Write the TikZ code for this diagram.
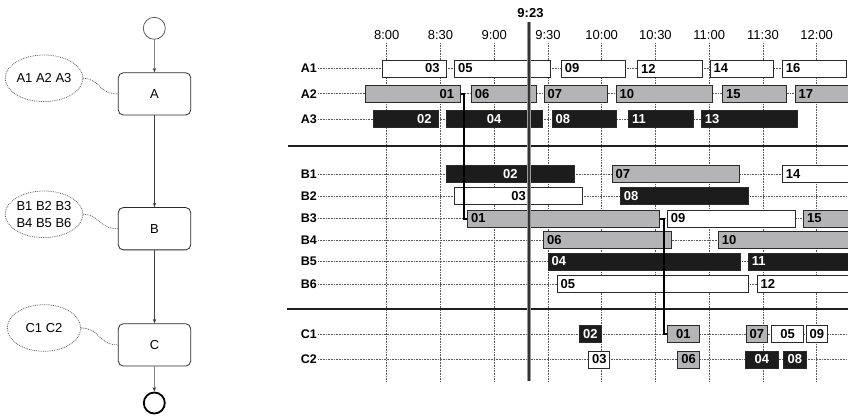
\documentclass[tikz,border=0pt]{standalone}
\usepackage{fontspec}
\setmainfont{Liberation Sans}
\usetikzlibrary{shapes.geometric,arrows.meta}
\definecolor{bxgray}{HTML}{B4B4B6}
\definecolor{bxblack}{HTML}{1C1C1C}
\definecolor{edgec}{HTML}{2A2A2A}
\definecolor{dotc}{HTML}{5A5A5A}
\definecolor{nowgray}{HTML}{9A9A9A}
\newcommand\bx[7]{%
  \pgfmathsetmacro\bxw{#4-#3}\pgfmathsetmacro\bxtw{#4-#3-7}%
  \node[#2, anchor=west, minimum width=\bxw pt, text width=\bxtw pt, align=#7] (#1) at (#3,#5) {#6};}
\begin{document}
\begin{tikzpicture}[x=1pt,y=-1pt,
  every node/.style={font=\fontsize{13}{17}\selectfont},
  boxbase/.style={draw=edgec, line width=0.8pt, minimum height=17pt, inner xsep=3.5pt, inner ysep=0pt,
    font=\fontsize{13}{14}\selectfont\bfseries},
  bW/.style={boxbase, fill=white, text=black},
  bG/.style={boxbase, fill=bxgray, text=black},
  bK/.style={boxbase, fill=bxblack, text=white},
  rowlab/.style={anchor=east, inner xsep=1pt, font=\fontsize{12.5}{14}\selectfont\bfseries},
  dotline/.style={draw=dotc, densely dotted, line width=0.6pt},
  gridline/.style={draw=dotc, densely dotted, line width=0.6pt},
  sep/.style={draw=black!88, line width=2.6pt},
  conn/.style={draw=black, line width=2pt},
  fbox/.style={draw=edgec, line width=0.8pt, rounded corners=5pt, minimum width=72.4pt, minimum height=42.3pt},
  ell/.style={ellipse, draw=dotc, densely dotted, line width=0.8pt, minimum width=73.4pt, minimum height=46.6pt, inner sep=0pt, align=center},
  flowarrow/.style={draw=black!75, line width=0.6pt, -{Stealth[length=4.5pt,width=3.5pt]}},
  elink/.style={draw=dotc, densely dotted, line width=0.8pt}
]
\useasboundingbox (0,0) rectangle (848,416);

% ---------------- flow diagram ----------------
\node[circle, draw=black!70, line width=0.7pt, minimum size=22pt, inner sep=0pt] (start) at (154.3,28.3) {};
\node[fbox] (A) at (154.5,93.9) {A};
\node[fbox] (B) at (154.5,228.7) {B};
\node[fbox] (C) at (154.5,344.9) {C};
\node[circle, draw=black, line width=1.8pt, minimum size=21pt, inner sep=0pt] (end) at (154.3,403) {};
\draw[flowarrow] (start) -- (A);
\draw[flowarrow] (A) -- (B);
\draw[flowarrow] (B) -- (C);
\draw[flowarrow] (C) -- (end);

\node[ell] (eA) at (44,78.3) {A1 A2 A3};
\node[ell] (eB) at (44,214.3) {B1 B2 B3\\B4 B5 B6};
\node[ell] (eC) at (44,328) {C1 C2};
\draw[elink] (eA.east) .. controls (100,78.3) and (98,94) .. (A.west);
\draw[elink] (eB.east) .. controls (100,214.3) and (98,228.7) .. (B.west);
\draw[elink] (eC.east) .. controls (100,328) and (98,344.9) .. (C.west);

% ---------------- time grid ----------------
\foreach \t/\x [count=\i] in {8:00/386.7, 8:30/440.45, 9:00/494.2, 9:30/547.95, 10:00/601.7, 10:30/655.45, 11:00/709.2, 11:30/762.95, 12:00/816.7} {
  \node (t\i) at (\x,35) {\t};
  \coordinate (g\i) at (\x,381);
  \draw[gridline] (t\i.south) -- (g\i);
}

% ---------------- row labels and lines ----------------
\foreach \r/\y/\e in {A1/68.5/848, A2/93.7/848, A3/119/701, B1/174/848, B2/196/848, B3/218.5/848, B4/240/848, B5/261.5/848, B6/284/848, C1/334/848, C2/359.5/848} {
  \node[rowlab] (l\r) at (318,\y) {\r};
  \coordinate (e\r) at (\e,\y);
  \draw[dotline] (l\r.east) -- (e\r);
}

% ---------------- A boxes ----------------
\bx{a1-03}{bW}{382.3}{445.7}{68.5}{03\hspace*{3pt}}{right}
\bx{a1-05}{bW}{454.3}{550}{68.5}{05}{left}
\bx{a1-09}{bW}{561}{625}{68.5}{09}{left}
\bx{a1-12}{bW}{637.3}{701.7}{68.5}{12}{left}
\bx{a1-14}{bW}{709.7}{773.3}{68.5}{14}{left}
\bx{a1-16}{bW}{782}{846}{68.5}{16}{left}

\bx{a2-01}{bG}{365}{460.3}{93.7}{01\hspace*{3pt}}{right}
\bx{a2-06}{bG}{471}{535.7}{93.7}{06}{left}
\bx{a2-07}{bG}{543.7}{607.3}{93.7}{07}{left}
\bx{a2-10}{bG}{615.7}{711.7}{93.7}{10}{left}
\bx{a2-15}{bG}{722.3}{786.3}{93.7}{15}{left}
\bx{a2-17}{bG}{794.7}{852}{93.7}{17}{left}

\bx{a3-02}{bK}{373.3}{437.7}{119}{02\hspace*{3pt}}{right}
\bx{a3-04}{bK}{445.7}{541.7}{119}{04}{center}
\bx{a3-08}{bK}{551.7}{616}{119}{08}{left}
\bx{a3-11}{bK}{628.3}{692.7}{119}{11}{left}
\bx{a3-13}{bK}{701}{797.3}{119}{13}{left}

% ---------------- B boxes ----------------
\bx{b1-02}{bK}{445.7}{574}{174}{02}{center}
\bx{b1-07}{bG}{611.7}{739.3}{174}{07}{left}
\bx{b1-14}{bW}{782}{852}{174}{14}{left}

\bx{b2-03}{bW}{454.3}{582}{196}{03}{center}
\bx{b2-08}{bK}{620}{748.3}{196}{08}{left}

\bx{b3-01}{bG}{467.3}{658.7}{218.5}{01}{left}
\bx{b3-09}{bW}{667}{794.7}{218.5}{09}{left}
\bx{b3-15}{bG}{803.3}{852}{218.5}{15}{left}

\bx{b4-06}{bG}{543.3}{671.3}{240}{06}{left}
\bx{b4-10}{bG}{718}{852}{240}{10}{left}

\bx{b5-04}{bK}{547.7}{740}{261.5}{04}{left}
\bx{b5-11}{bK}{748}{852}{261.5}{11}{left}

\bx{b6-05}{bW}{556.7}{747.7}{284}{05}{left}
\bx{b6-12}{bW}{756.7}{852}{284}{12}{left}

% ---------------- C boxes ----------------
\bx{c1-02}{bK}{579}{601}{334}{02}{center}
\bx{c1-01}{bG}{666.7}{699}{334}{01}{center}
\bx{c1-07}{bG}{745.7}{766.7}{334}{07}{center}
\bx{c1-05}{bW}{771}{803.3}{334}{05}{center}
\bx{c1-09}{bW}{805.7}{826.7}{334}{09}{center}

\bx{c2-03}{bW}{588.3}{609.3}{359.5}{03}{center}
\bx{c2-06}{bG}{677.3}{699.3}{359.5}{06}{center}
\bx{c2-04}{bK}{745.3}{777.7}{359.5}{04}{center}
\bx{c2-08}{bK}{783.3}{805.7}{359.5}{08}{center}

% ---------------- separators ----------------
\coordinate (s1l) at (288,146); \coordinate (s1r) at (852,146);
\coordinate (s2l) at (287,309); \coordinate (s2r) at (852,309);
\draw[sep] (s1l) -- (s1r);
\draw[sep] (s2l) -- (s2r);

% ---------------- hand-over connectors ----------------
\draw[conn] (a2-01.east) -- ++(3.3,0) |- (b3-01.west);
\draw[conn] (b3-01.east) -- ++(4,0) |- (c1-01.west);

% ---------------- current time line ----------------
\node[font=\fontsize{13}{15}\selectfont\bfseries] (now) at (530.5,13) {9:23};
\coordinate (nowtop) at (529,21.5);
\coordinate (nowbot) at (529,381);
\draw[draw=nowgray, line width=4.6pt] (nowtop) -- (nowbot);
\draw[draw=black!80, line width=1.2pt] (nowtop) -- (nowbot);
\end{tikzpicture}
\end{document}
